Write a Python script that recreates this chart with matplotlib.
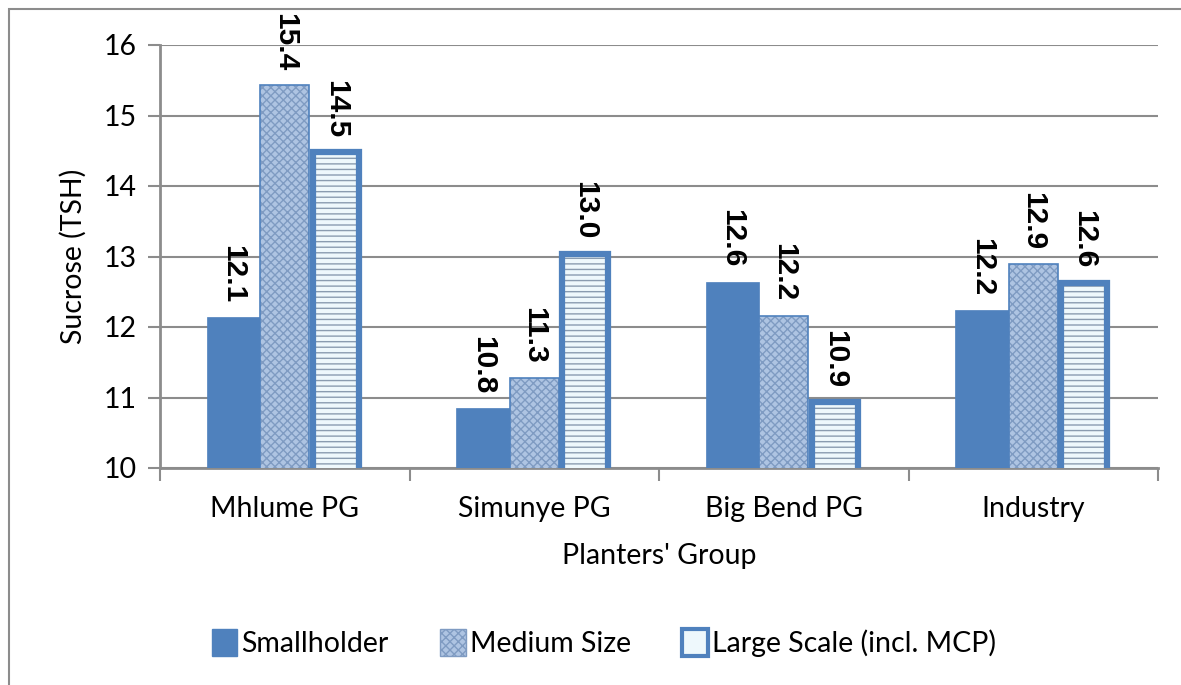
#!/usr/bin/env python3
# Sucrose (TSH) by planters' group, grouped bars with rotated value labels.

import numpy as np
import matplotlib.pyplot as plt
from matplotlib import patches

groups = ['Mhlume PG', 'Simunye PG', 'Big Bend PG', 'Industry']
series = ['Smallholder', 'Medium Size', 'Large Scale (incl. MCP)']
smallholder = [12.14, 10.85, 12.64, 12.24]
medium_size = [15.43, 11.28, 12.16, 12.89]
large_scale = [14.48, 13.04, 10.94, 12.63]

BLUE = '#4f81bd'
GRID = '#8c8c8c'
FONT = ['Lato', 'DejaVu Sans']

plt.rcParams['font.family'] = FONT
plt.rcParams['hatch.linewidth'] = 1.0

fig = plt.figure(figsize=(11.81, 6.85), dpi=100)
ax = fig.add_axes([160 / 1181, 1 - 468 / 685, (1158 - 160) / 1181, (468 - 45) / 685])

x = np.arange(len(groups))
w = 0.205
bw = 0.215

# smallholder: solid blue
b1 = ax.bar(x - w, smallholder, bw, color=BLUE, edgecolor=BLUE, lw=0.5, zorder=3)

# medium size: light blue with cross pattern
ax.bar(x, medium_size, bw * 0.92, color='#aec4e2', edgecolor='#7f9bc2', hatch='xxxx', lw=0, zorder=3)
b2 = ax.bar(x, medium_size, bw * 0.92, color='none', edgecolor=BLUE, lw=1.2, zorder=4)

# large scale: pale fill with horizontal lines and a thick blue border
ax.bar(x + w, large_scale, bw * 0.86, color='#eef8fc', edgecolor='#8a9cb0', hatch='---', lw=0, zorder=3)
b3 = ax.bar(x + w, large_scale, bw * 0.86, color='none', edgecolor=BLUE, lw=4.5, zorder=4)

for bars, vals in ((b1, smallholder), (b2, medium_size), (b3, large_scale)):
    for rect, v in zip(bars, vals):
        ax.text(rect.get_x() + rect.get_width() / 2, v + 0.2, '{:.1f}'.format(v),
                rotation=-90, ha='center', va='bottom', fontsize=21.5, fontweight='bold',
                family=['Liberation Sans', 'DejaVu Sans'], zorder=5, clip_on=False)

ax.set_ylim(10, 16)
ax.set_xlim(-0.5, len(groups) - 0.5)
ax.set_yticks(range(10, 17))
ax.yaxis.grid(True, color=GRID, lw=1.5, zorder=0)
ax.set_axisbelow(True)

ax.set_xticks(x)
ax.set_xticklabels(groups)
ax.set_xticks(np.arange(-0.5, len(groups)), minor=True)
ax.tick_params(axis='x', which='major', length=0, pad=20, labelsize=20.5)
ax.tick_params(axis='x', which='minor', length=9, width=1.5, color=GRID)
ax.tick_params(axis='y', length=9, width=1.5, color=GRID, labelsize=20.5, pad=8)

for side in ('top', 'right'):
    ax.spines[side].set_visible(False)
for side in ('left', 'bottom'):
    ax.spines[side].set_color(GRID)
    ax.spines[side].set_linewidth(2)

ax.set_ylabel('Sucrose (TSH)', fontsize=20.5, labelpad=12)
ax.set_xlabel("Planters' Group", fontsize=20.5, labelpad=15)

h1 = patches.Patch(facecolor=BLUE, edgecolor=BLUE)
h2 = patches.Patch(facecolor='#aec4e2', edgecolor='#7f9bc2', hatch='xxxx')
h3 = patches.Patch(facecolor='#eef8fc', edgecolor=BLUE, lw=3)
fig.legend([h1, h2, h3], series, loc='center', bbox_to_anchor=(604 / 1181, 1 - 643 / 685),
           ncol=3, frameon=False, fontsize=20.5, handlelength=0.9, handleheight=1.1,
           handletextpad=0.15, columnspacing=1.8)

# outer chart frame
fig.patches.append(patches.Rectangle((9 / 1181, -0.02), 1.1, 1 - 9 / 685 + 0.02,
                                     transform=fig.transFigure, fill=False,
                                     edgecolor='#8c8c8c', lw=1.5))

fig.savefig('out.png', dpi=100)
